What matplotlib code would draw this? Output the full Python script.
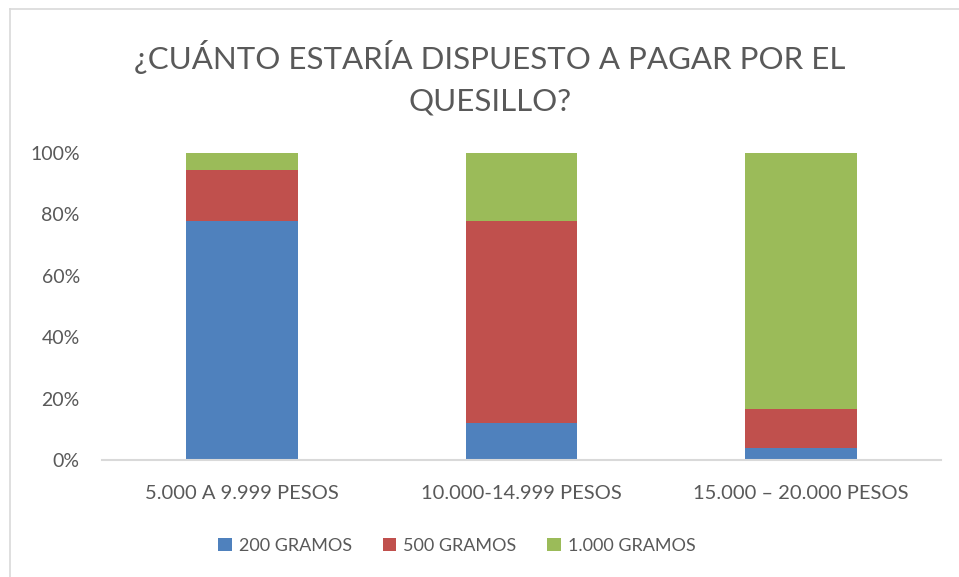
import matplotlib
matplotlib.use("Agg")
import matplotlib.pyplot as plt
from matplotlib.patches import Patch
from matplotlib.lines import Line2D
from matplotlib.ticker import PercentFormatter

categories = ["5.000 A 9.999 PESOS", "10.000-14.999 PESOS", "15.000 – 20.000 PESOS"]
series_names = ["200 GRAMOS", "500 GRAMOS", "1.000 GRAMOS"]
g200 = [77.9, 12.0, 4.0]
g500 = [16.6, 66.0, 12.7]
g1000 = [5.5, 22.0, 83.3]
colors = ["#4F81BD", "#C0504D", "#9BBB59"]
title = "¿CUÁNTO ESTARÍA DISPUESTO A PAGAR POR EL\nQUESILLO?"

plt.rcParams['font.family'] = ['Lato', 'DejaVu Sans']
text_color = "#595959"

W, H = 959, 577
fig = plt.figure(figsize=(W / 100, H / 100), dpi=100)
ax = fig.add_axes([102 / W, (H - 460) / H, 839 / W, 307 / H])

x = list(range(len(categories)))
bottom = [0.0] * len(categories)
for vals, c, name in zip([g200, g500, g1000], colors, series_names):
    ax.bar(x, vals, width=0.4, bottom=bottom, color=c, label=name, linewidth=0)
    bottom = [b + v for b, v in zip(bottom, vals)]

ax.set_xlim(-0.5, len(categories) - 0.5)
ax.set_ylim(0, 100)
ax.set_yticks([0, 20, 40, 60, 80, 100])
ax.yaxis.set_major_formatter(PercentFormatter(decimals=0))
ax.set_xticks(x)
ax.set_xticklabels(categories)
for s in ["top", "right", "left"]:
    ax.spines[s].set_visible(False)
ax.spines["bottom"].set_color("#D9D9D9")
ax.spines["bottom"].set_linewidth(1.5)
ax.tick_params(axis="y", length=0, labelsize=14, colors=text_color, pad=16)
ax.tick_params(axis="x", length=0, labelsize=14.5, colors=text_color, pad=18)

fig.text(490 / W, 1 - 78 / H, title, ha="center", va="center", fontsize=22.5,
         color=text_color, linespacing=1.6)

handles = [Patch(facecolor=c, edgecolor="none") for c in colors]
fig.legend(handles, series_names, loc="center", bbox_to_anchor=(457 / W, 1 - 546 / H),
           ncol=3, frameon=False, fontsize=13, labelcolor=text_color,
           handlelength=0.75, handleheight=0.75, handletextpad=0.4, columnspacing=1.7)

# chart border (left and top visible)
fig.add_artist(Line2D([9.5 / W, 9.5 / W], [0, 1 - 8.5 / H], transform=fig.transFigure,
                      color="#D9D9D9", linewidth=1.2))
fig.add_artist(Line2D([9.5 / W, 1], [1 - 8.5 / H, 1 - 8.5 / H], transform=fig.transFigure,
                      color="#D9D9D9", linewidth=1.2))

fig.savefig("out.png", dpi=100)
